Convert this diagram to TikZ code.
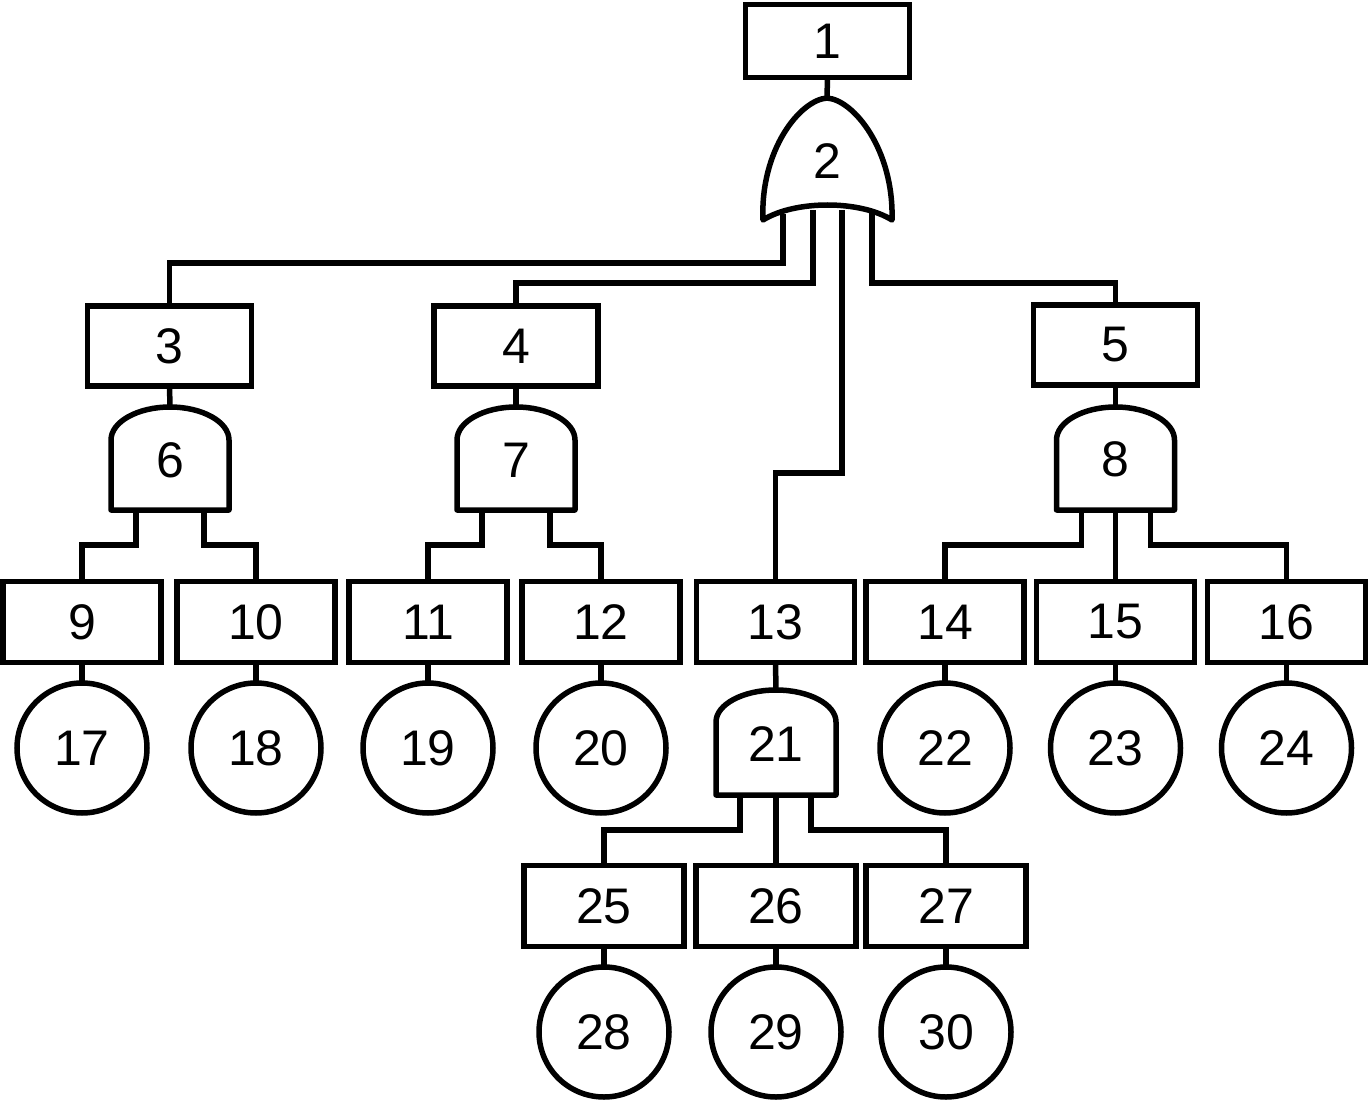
\documentclass[tikz,border=0pt]{standalone}
\usepackage{fontspec}
\setmainfont{Liberation Sans}
\newcommand{\fdandgate}[5]{%
  \draw[gate] ({#1-#5},#4) -- ({#1-#5},#3)
    .. controls ({#1-#5},{#3-0.55*(#3-#2)}) and ({#1-0.55*#5},#2) .. (#1,#2)
    .. controls ({#1+0.55*#5},#2) and ({#1+#5},{#3-0.55*(#3-#2)}) .. ({#1+#5},#3)
    -- ({#1+#5},#4) -- cycle;}
\begin{document}
\begin{tikzpicture}[x=1pt,y=-1pt,line width=5.5pt,
  box/.style={draw,rectangle,minimum width=158pt,minimum height=81pt,outer sep=0pt,inner sep=0pt,font=\fontsize{50}{60}\selectfont},
  ev/.style={draw,circle,minimum size=130pt,outer sep=0pt,inner sep=0pt,font=\fontsize{50}{60}\selectfont},
  lbl/.style={inner sep=0pt,font=\fontsize{50}{60}\selectfont},
  gate/.style={draw,fill=white,line join=round}]
\useasboundingbox (0,0) rectangle (1369,1102);

% top
\node[box,minimum width=164pt,minimum height=73pt] (b1) at (827.5,41) {1};
% second level boxes
\node[box,minimum width=164pt,minimum height=80pt] (b3) at (169.5,346) {3};
\node[box,minimum width=164pt,minimum height=80pt] (b4) at (516,346) {4};
\node[box,minimum width=164pt,minimum height=80pt] (b5) at (1115.5,345) {5};
% row of boxes
\node[box] (b9)  at (82,622) {9};
\node[box] (b10) at (256,622) {10};
\node[box] (b11) at (428,622) {11};
\node[box] (b12) at (601,622) {12};
\node[box] (b13) at (775.5,622) {13};
\node[box] (b14) at (945,622) {14};
\node[box] (b15) at (1115.5,622) {15};
\node[box] (b16) at (1286.5,622) {16};
\node[box,minimum width=160pt] (b25) at (604,906) {25};
\node[box,minimum width=160pt] (b26) at (776,906) {26};
\node[box,minimum width=160pt] (b27) at (946,906) {27};
% events
\node[ev] (e17) at (82,748) {17};
\node[ev] (e18) at (256,748) {18};
\node[ev] (e19) at (428,748) {19};
\node[ev] (e20) at (601,748) {20};
\node[ev] (e22) at (945,748) {22};
\node[ev] (e23) at (1115.5,748) {23};
\node[ev] (e24) at (1286.5,748) {24};
\node[ev] (e28) at (604,1032) {28};
\node[ev] (e29) at (776,1032) {29};
\node[ev] (e30) at (946,1032) {30};

% gate coordinates
\coordinate (g2top) at (827,98);
\coordinate (g2p1) at (783,214);
\coordinate (g2p2) at (813,210);
\coordinate (g2p3) at (842,210);
\coordinate (g2p4) at (872,213);
\coordinate (g6top) at (170,407);
\coordinate (g6p1) at (136,510);
\coordinate (g6p2) at (204,510);
\coordinate (g7top) at (516,407);
\coordinate (g7p1) at (482,510);
\coordinate (g7p2) at (550,510);
\coordinate (g8top) at (1115.5,407);
\coordinate (g8p1) at (1081.5,510);
\coordinate (g8p2) at (1115.5,510);
\coordinate (g8p3) at (1150.5,510);
\coordinate (g21top) at (776,690);
\coordinate (g21p1) at (740,795);
\coordinate (g21p2) at (776,795);
\coordinate (g21p3) at (811,795);

% connectors
\draw (b1.south) -- (g2top);
\draw (g2p1) -- ++(0,49) -| (b3.north);
\draw (g2p2) -- ++(0,73) -| (b4.north);
\draw (g2p3) -- ++(0,263) -| (b13.north);
\draw (g2p4) -- ++(0,70) -| (b5.north);
\draw (b3.south) -- (g6top);
\draw (b4.south) -- (g7top);
\draw (b5.south) -- (g8top);
\draw (b13.south) -- (g21top);
\draw (g6p1) -- ++(0,35) -| (b9.north);
\draw (g6p2) -- ++(0,35) -| (b10.north);
\draw (g7p1) -- ++(0,35) -| (b11.north);
\draw (g7p2) -- ++(0,35) -| (b12.north);
\draw (g8p1) -- ++(0,35) -| (b14.north);
\draw (g8p2) -- (b15.north);
\draw (g8p3) -- ++(0,35) -| (b16.north);
\draw (g21p1) -- ++(0,35) -| (b25.north);
\draw (g21p2) -- (b26.north);
\draw (g21p3) -- ++(0,35) -| (b27.north);
\foreach \b/\e in {b9/e17,b10/e18,b11/e19,b12/e20,b14/e22,b15/e23,b16/e24,b25/e28,b26/e29,b27/e30}
  \draw (\b.south) -- (\e.north);

% OR gate 2
\draw[gate] (763,220) .. controls (760,150) and (800,100) .. (g2top)
  .. controls (854,100) and (894,150) .. (892,220)
  .. controls (860,200) and (795,200) .. (763,220) -- cycle;
% AND gates
\fdandgate{170}{407}{440}{510}{59}
\fdandgate{516}{407}{440}{510}{59}
\fdandgate{1115.5}{407}{440}{510}{59}
\fdandgate{776}{690}{722}{795}{60}

% gate labels
\node[lbl] (g2) at (827,161) {2};
\node[lbl] (g6) at (170,460) {6};
\node[lbl] (g7) at (516,460) {7};
\node[lbl] (g8) at (1115.5,459) {8};
\node[lbl] (g21) at (776,744) {21};
\end{tikzpicture}
\end{document}
